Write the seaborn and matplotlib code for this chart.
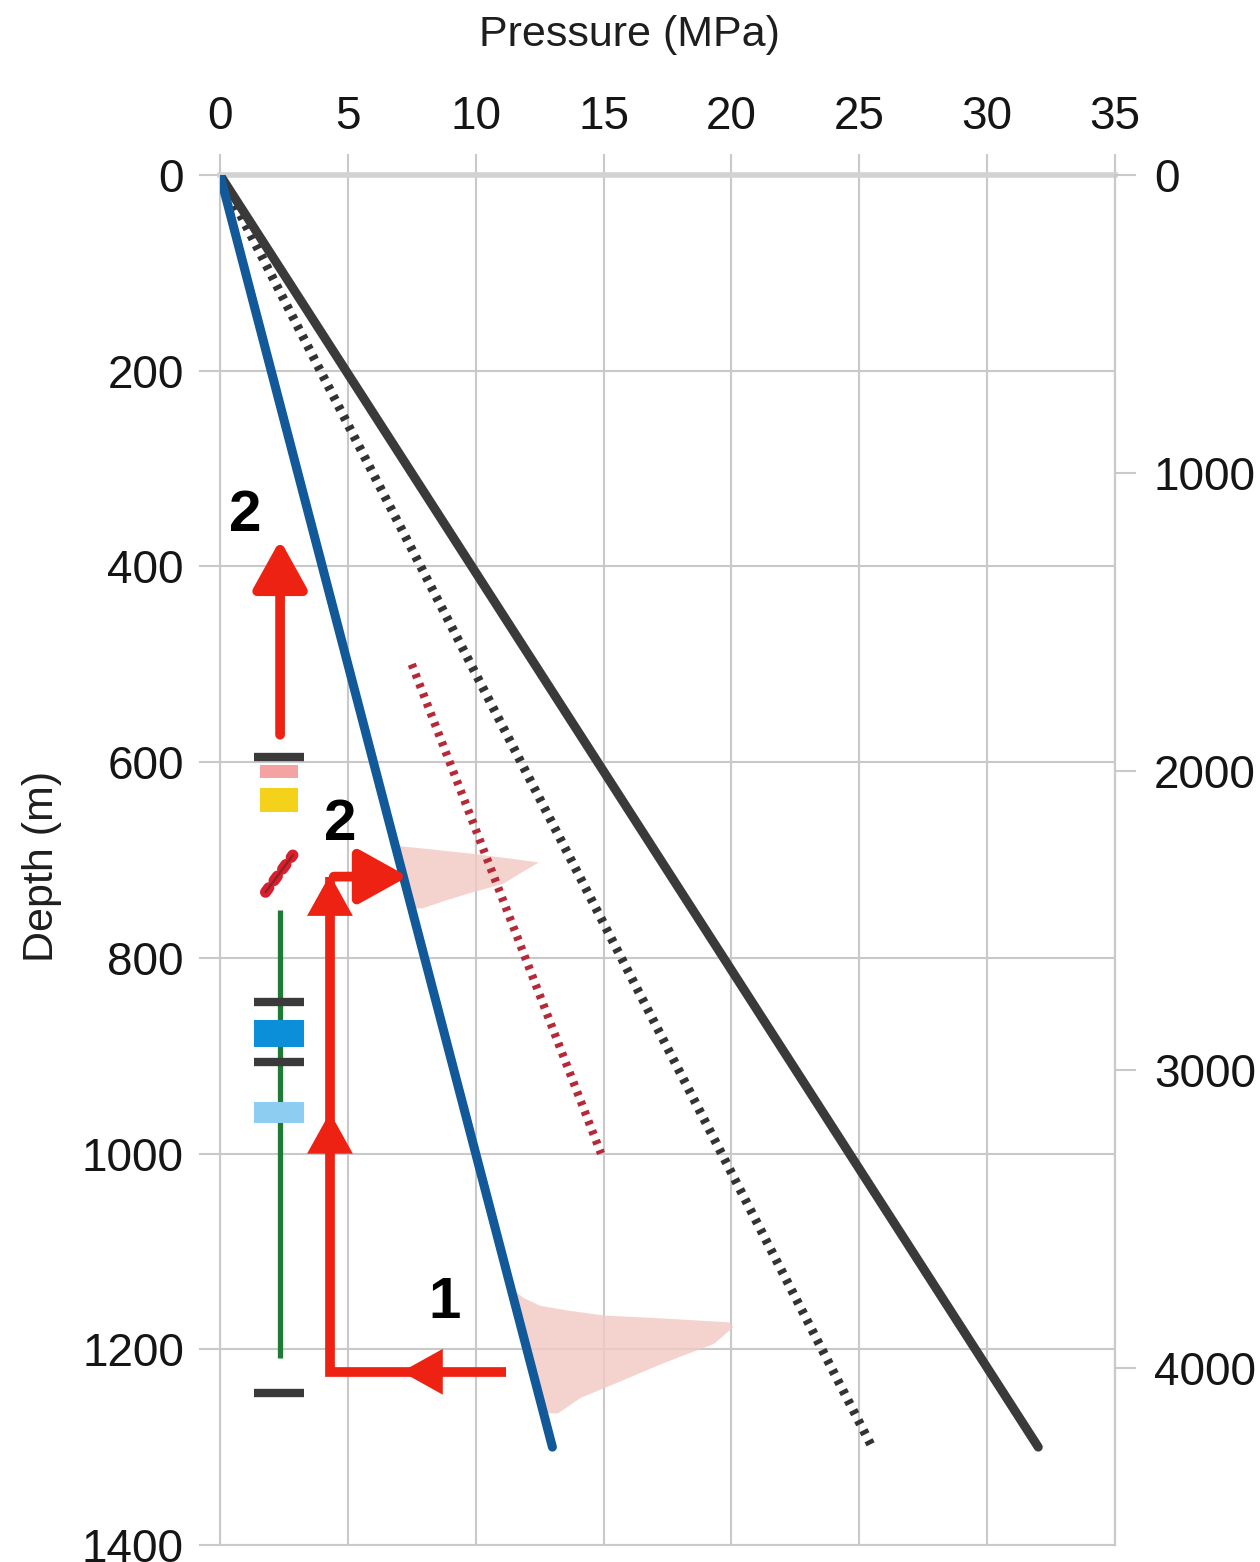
import numpy as np
import pandas as pd
import matplotlib
matplotlib.use("Agg")
import matplotlib.pyplot as plt
import seaborn as sns

# =======================
# Data (pressure in MPa, depth in m)
# =======================
hydro_p = [0, 13.0]
hydro_d = [0, 1300]
litho_p = [0, 32.0]
litho_d = [0, 1300]
frac_p = [0, 25.5]
frac_d = [0, 1300]
red_p = [7.5, 14.9]
red_d = [500, 1000]

# pink pressure distributions (right edge), left edge is hydrostatic line
bump1_d = [685, 688, 693, 698, 702, 712, 724, 733, 741, 749]
bump1_p = [6.85, 8.0, 9.8, 11.3, 12.45, 11.8, 11.05, 9.8, 8.8, 7.9]
bump2_d = [1139, 1147, 1155, 1160, 1165, 1168, 1172, 1177, 1194, 1214, 1235, 1249, 1265]
bump2_p = [11.45, 11.85, 12.5, 13.6, 15.0, 17.3, 19.9, 20.05, 19.3, 17.3, 15.4, 14.1, 13.2]

# well column symbols
col_x = 2.35
green_d = [751, 1209]
bar_d = [595, 845, 906, 1245]
bar_left, bar_right = 1.33, 3.28
rect_d0 = [603, 626, 864, 947]
rect_d1 = [616, 651, 891, 969]
rect_left = [1.56, 1.56, 1.33, 1.33]
rect_right = [3.05, 3.05, 3.28, 3.28]
rect_col = ["#f4a2a2", "#f4d21c", "#0a8fd8", "#8ecdf2"]
perf_p = [1.78, 2.85]
perf_d = [733, 695]

# arrows and their labels
arrow_col = "#ee2212"
path_p = [11.2, 4.3, 4.3]
path_d = [1223, 1223, 717]
label_txt = ["2", "2", "1"]
label_p = [0.98, 4.69, 8.8]
label_d = [349, 664, 1153]

xticks = [0, 5, 10, 15, 20, 25, 30, 35]
yticks = [0, 200, 400, 600, 800, 1000, 1200, 1400]
ftticks = [0, 1000, 2000, 3000, 4000]

# =======================
# Figure
# =======================
sns.set_theme(style="whitegrid")
plt.rcParams["font.family"] = ["Liberation Sans", "DejaVu Sans"]

fig = plt.figure(figsize=(12.6, 15.62), dpi=100)
ax = fig.add_axes([0.1746, 0.0109, 0.7103, 0.8771])
ax.set_facecolor("white")

grey = "#c9c9c9"
ax.grid(True, color=grey, lw=1.5)
ax.set_axisbelow(True)

# pink fills
pink = "#f2c9c4"
b1 = np.array(bump1_d) * hydro_p[1] / hydro_d[1]
ax.fill_betweenx(bump1_d, b1, bump1_p, color=pink, alpha=0.8, lw=0, zorder=2)
b2 = np.array(bump2_d) * hydro_p[1] / hydro_d[1]
ax.fill_betweenx(bump2_d, b2, bump2_p, color=pink, alpha=0.8, lw=0, zorder=2)

# lines
sns.lineplot(x=frac_p, y=frac_d, ax=ax, color="#333333", linewidth=6.5,
             linestyle=(0, (0.5, 0.75)), zorder=3)
sns.lineplot(x=red_p, y=red_d, ax=ax, color="#b52a36", linewidth=6.0,
             linestyle=(0, (0.5, 0.75)), zorder=3)
sns.lineplot(x=litho_p, y=litho_d, ax=ax, color="#3a3a3a", linewidth=6.5, zorder=4)
sns.lineplot(x=hydro_p, y=hydro_d, ax=ax, color="#12599a", linewidth=6.5, zorder=5)

# well column
ax.vlines(col_x, green_d[0], green_d[1], color="#1e7b34", lw=3.8, zorder=3)
for d0, d1, l, r, c in zip(rect_d0, rect_d1, rect_left, rect_right, rect_col):
    ax.barh(y=(d0 + d1) / 2, width=r - l, left=l, height=d1 - d0,
            color=c, lw=0, zorder=4)
ax.hlines(bar_d, bar_left, bar_right, color="#3a3a3a", lw=6.0, zorder=5)
ax.plot(perf_p, perf_d, color="#d81f2e", lw=8, linestyle=(0, (0.5, 0.8)),
        dash_capstyle="round", zorder=5)
ax.plot(perf_p, perf_d, color="#8a2222", lw=1.5, zorder=5)

# arrows
lw_arrow = 7.0
head = "-|>,head_length=1.35,head_width=0.75"


def arrow(tip, tail, shaft=True):
    ax.annotate("", xy=tip, xytext=tail,
                arrowprops=dict(arrowstyle=head, color=arrow_col,
                                lw=lw_arrow if shaft else 0,
                                shrinkA=0, shrinkB=0, mutation_scale=22),
                zorder=7)


arrow((col_x, 373), (col_x, 572))
ax.plot(path_p, path_d, color=arrow_col, lw=lw_arrow, zorder=7,
        solid_capstyle="butt", solid_joinstyle="miter")
arrow((7.1, 1223), (9.5, 1223), shaft=False)
arrow((4.3, 958), (4.3, 1030), shaft=False)
arrow((4.3, 715), (4.3, 790), shaft=False)
arrow((7.35, 717), (4.45, 717))

for s, x, y in zip(label_txt, label_p, label_d):
    ax.text(x, y, s, fontsize=42, fontweight="bold", color="black",
            ha="center", va="center", zorder=8)

# axes
ax.set_xlim(0, 35)
ax.set_ylim(1400, 0)
ax.set_xticks(xticks)
ax.set_yticks(yticks)
ax.xaxis.tick_top()
ax.xaxis.set_label_position("top")
ax.set_xlabel("Pressure (MPa)", fontsize=31, color="#1e1e1e")
ax.set_ylabel("Depth (m)", fontsize=31, color="#1e1e1e")
ax.xaxis.set_label_coords(0.458, 1.094)
ax.yaxis.set_label_coords(-0.177, 0.4956)
ax.tick_params(axis="both", labelsize=33, labelcolor="#151515", color=grey,
               direction="out", length=15, width=1.5)
ax.tick_params(axis="x", pad=11)
ax.tick_params(axis="y", pad=11)
for s in ["left", "right", "bottom"]:
    ax.spines[s].set_color(grey)
    ax.spines[s].set_linewidth(1.5)
ax.spines["top"].set_color("#d2d2d2")
ax.spines["top"].set_linewidth(4)

ax2 = ax.twinx()
ax2.grid(False)
ax2.set_ylim(1400 / 0.3048, 0)
ax2.set_yticks(ftticks)
ax2.tick_params(axis="y", labelsize=33, labelcolor="#151515", color=grey,
                direction="out", length=15, width=1.5, pad=13)
for s in ["left", "top", "bottom"]:
    ax2.spines[s].set_visible(False)
ax2.spines["right"].set_color(grey)
ax2.spines["right"].set_linewidth(1.5)

fig.savefig("out.png", dpi=100)
